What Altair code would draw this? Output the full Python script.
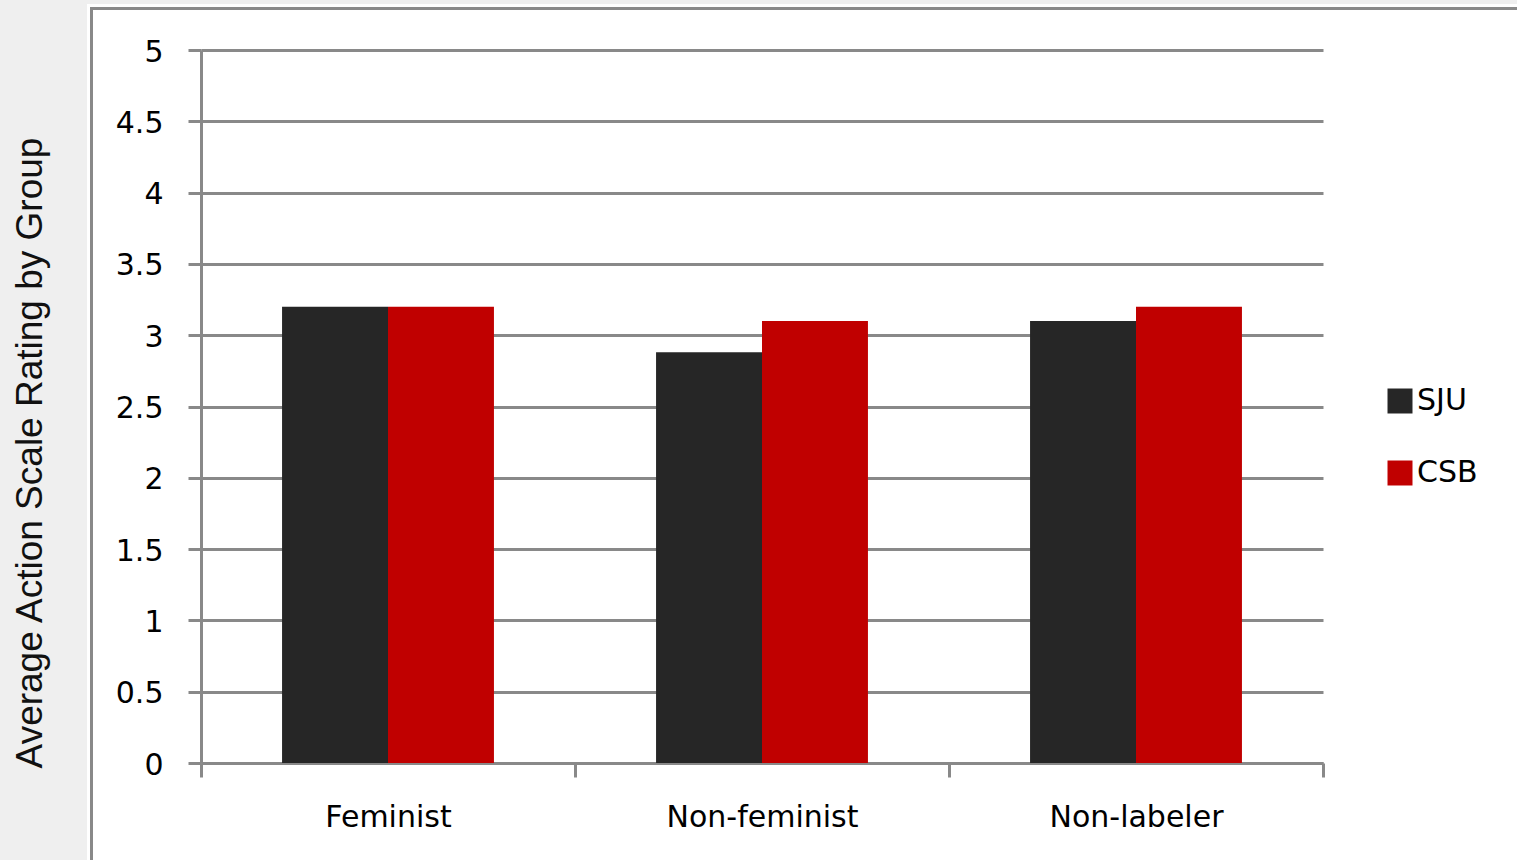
import altair as alt
import pandas as pd

# Average action-scale rating per group, split by campus
groups = ["Feminist", "Non-feminist", "Non-labeler"]
schools = ["SJU", "CSB"]
sju_values = [3.2, 2.88, 3.1]
csb_values = [3.2, 3.1, 3.2]
school_colors = ["#262626", "#c00000"]
y_ticks = [0, 0.5, 1, 1.5, 2, 2.5, 3, 3.5, 4, 4.5, 5]
y_title = "Average Action Scale Rating by Group"

rows = []
for g, s_val, c_val in zip(groups, sju_values, csb_values):
    rows.append({"group": g, "school": "SJU", "rating": s_val})
    rows.append({"group": g, "school": "CSB", "rating": c_val})
df = pd.DataFrame(rows)

W, H = 1122, 713
PAD_L, PAD_T, PAD_R, PAD_B = 201, 50, 194, 97
LINE = "#898989"
LABEL_FONT = "DejaVu Sans"

bars = alt.Chart(df).mark_bar().encode(
    x=alt.X(
        "group:N",
        sort=groups,
        title=None,
        scale=alt.Scale(paddingInner=0, paddingOuter=0),
        axis=alt.Axis(
            labelAngle=0,
            tickBand="extent",
            tickSize=14,
            labelPadding=25,
            labelLimit=0,
            grid=False,
        ),
    ),
    xOffset=alt.XOffset("school:N", sort=schools,
                        scale=alt.Scale(paddingInner=0, paddingOuter=0.765)),
    y=alt.Y(
        "rating:Q",
        title=None,
        scale=alt.Scale(domain=[0, 5], nice=False),
        axis=alt.Axis(values=y_ticks, format="~g", grid=True,
                      tickSize=13, labelPadding=25, labelOffset=2),
    ),
    color=alt.Color(
        "school:N",
        sort=schools,
        scale=alt.Scale(domain=schools, range=school_colors),
        legend=alt.Legend(
            title=None,
            orient="none",
            legendX=1184,
            legendY=336,
            symbolType="square",
            symbolSize=625,
            symbolStrokeWidth=0,
            labelFont=LABEL_FONT,
            labelFontSize=30,
            labelColor="#000000",
            labelOffset=2,
            rowPadding=42,
            padding=0,
        ),
    ),
)

one = pd.DataFrame({"k": [0]})

# grey surround on the left and top edges of the page
left_strip = alt.Chart(one).mark_rect(color="#efefef").encode(
    x=alt.value(-PAD_L), x2=alt.value(-114),
    y=alt.value(-PAD_T), y2=alt.value(H + PAD_B),
)
top_strip = alt.Chart(one).mark_rect(color="#efefef").encode(
    x=alt.value(-PAD_L), x2=alt.value(W + PAD_R),
    y=alt.value(-PAD_T), y2=alt.value(-46),
)
# chart-area border
frame = alt.Chart(one).mark_rect(fillOpacity=0, stroke=LINE, strokeWidth=3).encode(
    x=alt.value(-109.5), x2=alt.value(W + PAD_R + 20),
    y=alt.value(-41.5), y2=alt.value(H + PAD_B + 20),
)
# vertical axis title sitting on the grey strip
title_text = alt.Chart(one).mark_text(
    angle=270, font="Liberation Sans", fontSize=37, color="#111111",
    align="center", baseline="middle",
).encode(
    x=alt.value(-170), y=alt.value(403), text=alt.value(y_title),
)

chart = alt.layer(bars, left_strip, top_strip, frame, title_text).properties(
    width=W,
    height=H,
    autosize=alt.AutoSizeParams(type="none"),
    padding={"left": PAD_L, "top": PAD_T, "right": PAD_R, "bottom": PAD_B},
    background="#ffffff",
).configure_view(
    stroke=None,
).configure_axis(
    domainColor=LINE,
    domainWidth=3,
    tickColor=LINE,
    tickWidth=3,
    gridColor=LINE,
    gridWidth=3,
    labelFont=LABEL_FONT,
    labelFontSize=30,
    labelColor="#000000",
)

chart.save("out.html", embed_options={"renderer": "svg", "actions": False})
